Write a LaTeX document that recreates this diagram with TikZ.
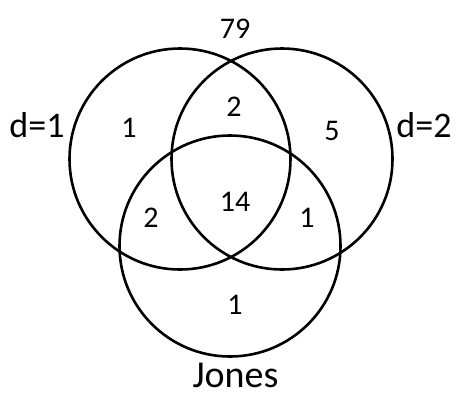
\documentclass[tikz,border=0pt]{standalone}
\usepackage{fontspec}
\setmainfont{Carlito}
\begin{document}
\begin{tikzpicture}[x=1pt,y=-1pt,
  setc/.style={circle,draw=black,line width=2.6pt,minimum size=221pt,inner sep=0pt},
  num/.style={anchor=base,font=\fontsize{30}{30}\selectfont,inner sep=0pt},
  lab/.style={anchor=base,font=\fontsize{36}{36}\selectfont,inner sep=0pt}]
\useasboundingbox (0,0) rectangle (470,402);
\node[setc] (d1) at (180,159) {};
\node[setc] (d2) at (282,159) {};
\node[setc] (jo) at (230,246) {};
\node[num] (n79) at (235,38.3) {79};
\node[lab] (ld1) at (37,137) {d=1};
\node[lab] (ld2) at (424,137) {d=2};
\node[num] (a1) at (129,137) {1};
\node[num] (a2) at (234,116.7) {2};
\node[num] (a5) at (332,140) {5};
\node[num] (a14) at (235,211.7) {14};
\node[num] (b2) at (151,227.7) {2};
\node[num] (b1) at (307,227.3) {1};
\node[num] (c1) at (235,314) {1};
\node[lab,font=\fontsize{38}{38}\selectfont] (ljo) at (235.5,387) {Jones};
\end{tikzpicture}
\end{document}
